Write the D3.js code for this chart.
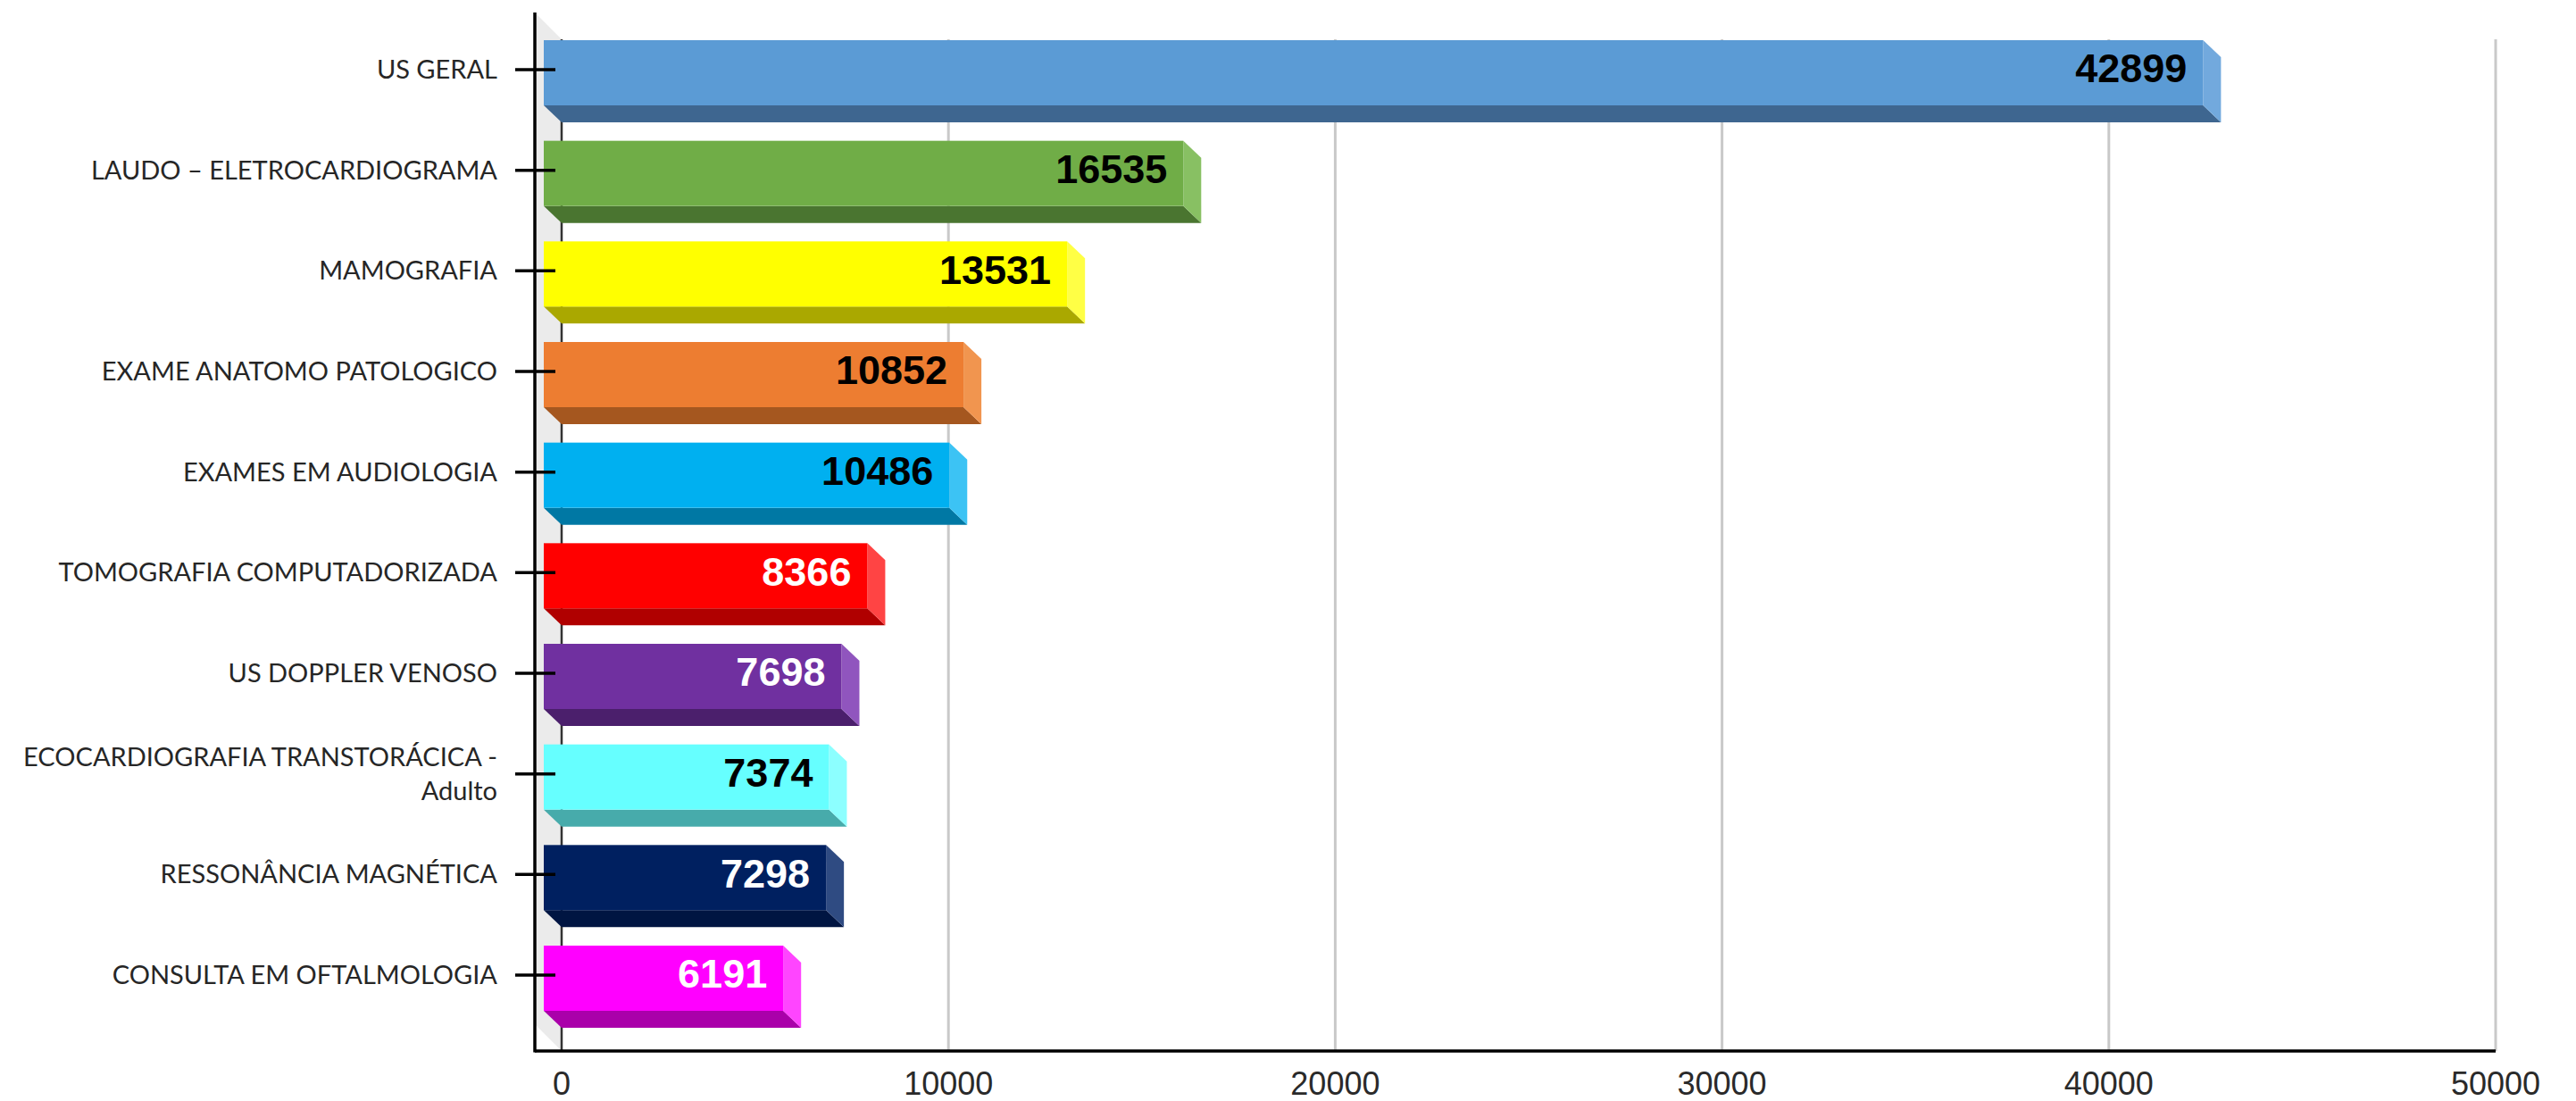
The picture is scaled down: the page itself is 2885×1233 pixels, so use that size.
<html>
<head>
<meta charset="utf-8">
<script src="https://cdn.jsdelivr.net/npm/d3@7"></script>
<style>
  body { margin: 0; background: #fff; }
  .cat { font-family: Lato, "Open Sans", sans-serif; font-size: 29px; fill: #262626; }
  .tick-x { font-family: "Liberation Sans", Arial, sans-serif; font-size: 36px; fill: #2a2a2a; }
  .val { font-family: "Liberation Sans", Arial, sans-serif; font-size: 45px; font-weight: bold; }
</style>
</head>
<body>
<div id="chart"></div>
<script>
// data
var categories = ["US GERAL", "LAUDO \u2013 ELETROCARDIOGRAMA", "MAMOGRAFIA", "EXAME ANATOMO PATOLOGICO",
  "EXAMES EM AUDIOLOGIA", "TOMOGRAFIA COMPUTADORIZADA", "US DOPPLER VENOSO",
  "ECOCARDIOGRAFIA TRANSTOR\u00C1CICA - Adulto", "RESSON\u00C2NCIA MAGN\u00C9TICA", "CONSULTA EM OFTALMOLOGIA"];
var values = [42899, 16535, 13531, 10852, 10486, 8366, 7698, 7374, 7298, 6191];
var xTicks = [0, 10000, 20000, 30000, 40000, 50000];

// bar colours: front face, bottom face, right side, label
var faceColors   = ["#5B9BD5", "#70AD47", "#FFFF00", "#ED7D31", "#00B0F0", "#FF0000", "#7030A0", "#66FFFF", "#002060", "#FF00FF"];
var bottomColors = ["#3E6690", "#4A7530", "#AAA800", "#A5571F", "#0078A4", "#B00000", "#4B1F6C", "#47ABAB", "#001542", "#AA00AA"];
var sideColors   = ["#72A9DD", "#88C063", "#FFFF45", "#F1954F", "#3CC3F4", "#FF4444", "#9055BE", "#8CFFFF", "#2F4B82", "#FF45FF"];
var labelColors  = ["#000", "#000", "#000", "#000", "#000", "#fff", "#fff", "#000", "#fff", "#fff"];

var width = 2885, height = 1233;
var axisX = 599, axisTop = 14, axisBottom = 1177, gridTop = 44;
var dx = 20, dy = 19, faceH = 73;

var svg = d3.select("#chart").append("svg").attr("width", width).attr("height", height);

var x = d3.scaleLinear().domain([0, 50000]).range([629, 2795]);
var y = d3.scalePoint().domain(categories).range([78, 1092]);

// left wall of the 3d box
svg.append("path")
  .attr("d", "M" + axisX + "," + axisTop + "L" + x(0) + "," + gridTop + "L" + x(0) + "," + axisBottom +
             "L" + axisX + "," + (axisBottom - 30) + "Z")
  .attr("fill", "#ebebeb");

// gridlines
svg.selectAll(".grid").data(xTicks).enter().append("line")
  .attr("x1", d => x(d)).attr("x2", d => x(d))
  .attr("y1", gridTop).attr("y2", axisBottom)
  .attr("stroke", d => d == 0 ? "#333" : "#c9c9c9")
  .attr("stroke-width", d => d == 0 ? 2.5 : 3);

// bars
var bars = svg.selectAll(".bar").data(categories).enter().append("g");
bars.each(function(c, i) {
  var g = d3.select(this);
  var top = y(c) - 33;
  var l = x(0) - dx, r = x(values[i]) - dx, b = top + faceH;
  // bottom face
  g.append("path")
    .attr("d", "M" + l + "," + b + "L" + r + "," + b + "L" + (r + dx) + "," + (b + dy) + "L" + (l + dx) + "," + (b + dy) + "Z")
    .attr("fill", bottomColors[i]);
  // right side
  g.append("path")
    .attr("d", "M" + r + "," + top + "L" + (r + dx) + "," + (top + dy) + "L" + (r + dx) + "," + (b + dy) + "L" + r + "," + b + "Z")
    .attr("fill", sideColors[i]);
  // front
  g.append("rect").attr("x", l).attr("y", top).attr("width", r - l).attr("height", faceH)
    .attr("fill", faceColors[i]);
  // value label
  g.append("text").attr("class", "val")
    .attr("x", r - 18).attr("y", y(c) - 2).attr("dy", "0.36em")
    .attr("text-anchor", "end").attr("fill", labelColors[i])
    .text(values[i]);
});

// axes
svg.append("line").attr("x1", axisX).attr("x2", axisX).attr("y1", axisTop).attr("y2", axisBottom + 1.5)
  .attr("stroke", "#000").attr("stroke-width", 3.5);
svg.append("line").attr("x1", axisX).attr("x2", x(50000)).attr("y1", axisBottom).attr("y2", axisBottom)
  .attr("stroke", "#000").attr("stroke-width", 3.5);

svg.selectAll(".ytick").data(categories).enter().append("line")
  .attr("x1", 577).attr("x2", 622)
  .attr("y1", d => y(d)).attr("y2", d => y(d))
  .attr("stroke", "#000").attr("stroke-width", 3.5);

// category labels
var cat = svg.selectAll(".cat").data(categories).enter().append("text")
  .attr("class", "cat").attr("text-anchor", "end")
  .attr("x", 557).attr("y", d => y(d));
cat.each(function(d) {
  var t = d3.select(this);
  if (d.indexOf(" - ") > 0) {
    var parts = d.split(" - ");
    t.append("tspan").attr("x", 557).attr("dy", "-0.3em").text(parts[0] + " -");
    t.append("tspan").attr("x", 557).attr("dy", "1.3em").text(parts[1]);
  } else {
    t.attr("dy", "0.35em").text(d);
  }
});

// x tick labels
svg.selectAll(".tick-x").data(xTicks).enter().append("text")
  .attr("class", "tick-x").attr("text-anchor", "middle")
  .attr("x", d => x(d)).attr("y", 1226)
  .text(d => d);
</script>
</body>
</html>
